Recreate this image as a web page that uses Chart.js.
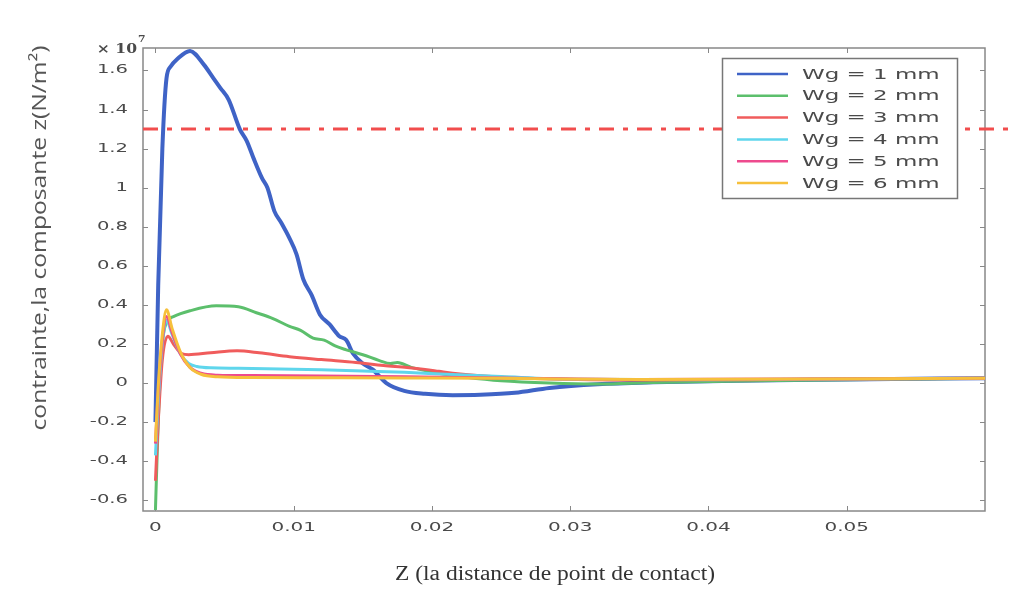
<!DOCTYPE html>
<html lang="fr">
<head>
  <meta charset="UTF-8">
  <title>Contrainte z</title>
  <script src="https://cdn.jsdelivr.net/npm/chart.js"></script>
  <style>
    body { margin: 0; background: #fff; }
    canvas { display: block; }
  </style>
</head>
<body>

<canvas id="stressChart" width="1010" height="592"></canvas>

<script>
// values are in units of 1e7 N/m^2
const seriesNames = ['Wg = 1 mm', 'Wg = 2 mm', 'Wg = 3 mm', 'Wg = 4 mm', 'Wg = 5 mm', 'Wg = 6 mm'];
const seriesColors = ['#3f63c6', '#5cbf6c', '#f05c5c', '#5fd6ec', '#ee4a8e', '#f6c03c'];

const zWg1 = [0, 0.0002, 0.0005, 0.0008, 0.0011, 0.0016, 0.0025, 0.0035, 0.0042, 0.0047, 0.0053, 0.0061, 0.0066, 0.0071, 0.0077, 0.0081, 0.0086, 0.0091, 0.0097, 0.0102, 0.0107, 0.0113, 0.0119, 0.0126, 0.0133, 0.0138, 0.0143, 0.015, 0.0157, 0.0167, 0.018, 0.0195, 0.0215, 0.0235, 0.026, 0.0285, 0.032, 0.036, 0.042, 0.05, 0.06];
const wg1 = [-0.2, 0.5, 1.2, 1.56, 1.62, 1.66, 1.70, 1.63, 1.56, 1.51, 1.45, 1.30, 1.24, 1.15, 1.05, 1.0, 0.88, 0.82, 0.74, 0.66, 0.53, 0.45, 0.35, 0.30, 0.24, 0.22, 0.15, 0.1, 0.07, 0.0, -0.04, -0.055, -0.062, -0.06, -0.05, -0.025, -0.006, 0.004, 0.012, 0.018, 0.025];

const zWg2 = [0, 0.0002, 0.0005, 0.0008, 0.0013, 0.0025, 0.0044, 0.006, 0.0073, 0.0085, 0.0097, 0.0105, 0.0114, 0.0122, 0.013, 0.0138, 0.015, 0.0162, 0.017, 0.0175, 0.0185, 0.0205, 0.0225, 0.025, 0.0285, 0.032, 0.036, 0.045, 0.06];
const wg2 = [-0.65, -0.2, 0.2, 0.31, 0.34, 0.37, 0.395, 0.39, 0.36, 0.33, 0.29, 0.27, 0.23, 0.22, 0.19, 0.17, 0.145, 0.115, 0.1, 0.105, 0.08, 0.05, 0.03, 0.012, 0.0, -0.005, 0.003, 0.013, 0.025];

const zWg3 = [0, 0.0002, 0.0005, 0.0009, 0.0013, 0.0019, 0.0024, 0.004, 0.0059, 0.0075, 0.0097, 0.012, 0.0145, 0.0165, 0.0182, 0.0195, 0.0205, 0.0215, 0.024, 0.028, 0.035, 0.045, 0.06];
const wg3 = [-0.5, -0.2, 0.12, 0.24, 0.2, 0.15, 0.145, 0.155, 0.165, 0.155, 0.135, 0.12, 0.105, 0.09, 0.08, 0.07, 0.06, 0.05, 0.035, 0.022, 0.015, 0.018, 0.025];

const zWg4 = [0, 0.0002, 0.0005, 0.0008, 0.0012, 0.0018, 0.0024, 0.003, 0.004, 0.006, 0.009, 0.012, 0.015, 0.018, 0.021, 0.025, 0.03, 0.04, 0.06];
const wg4 = [-0.37, -0.1, 0.2, 0.32, 0.25, 0.15, 0.1, 0.085, 0.078, 0.076, 0.072, 0.068, 0.062, 0.055, 0.045, 0.033, 0.02, 0.017, 0.025];

const zWg5 = [0, 0.0002, 0.0005, 0.0008, 0.0012, 0.0018, 0.0025, 0.0033, 0.0045, 0.007, 0.012, 0.018, 0.025, 0.035, 0.06];
const wg5 = [-0.31, -0.05, 0.22, 0.34, 0.26, 0.15, 0.08, 0.05, 0.04, 0.038, 0.036, 0.032, 0.026, 0.018, 0.025];

const zWg6 = [0, 0.0002, 0.0005, 0.0008, 0.0012, 0.0018, 0.0025, 0.0033, 0.0045, 0.007, 0.012, 0.018, 0.025, 0.035, 0.06];
const wg6 = [-0.3, -0.02, 0.25, 0.375, 0.28, 0.16, 0.08, 0.045, 0.032, 0.028, 0.027, 0.026, 0.024, 0.018, 0.025];

// limit stress (dash-dot line)
const limitZ = [-0.0009, 0.0618];
const limitValue = 1.3;

const xTicks = [0, 0.01, 0.02, 0.03, 0.04, 0.05];
const yTicks = [-0.6, -0.4, -0.2, 0, 0.2, 0.4, 0.6, 0.8, 1, 1.2, 1.4, 1.6];

const zSeries = [zWg1, zWg2, zWg3, zWg4, zWg5, zWg6];
const valSeries = [wg1, wg2, wg3, wg4, wg5, wg6];

// stretched text, like the original figure
function wideText(ctx, text, x, y, align, sx) {
  ctx.save();
  ctx.translate(x, y);
  ctx.scale(sx, 1);
  ctx.textAlign = align;
  ctx.fillText(text, 0, 0);
  ctx.restore();
}

const datasets = zSeries.map((zs, i) => ({
  label: seriesNames[i],
  data: zs.map((z, k) => ({ x: z, y: valSeries[i][k] })),
  borderColor: seriesColors[i],
  borderWidth: i === 0 ? 4 : 3,
  pointRadius: 0,
  cubicInterpolationMode: 'monotone',
  fill: false,
  order: 6 - i
}));

datasets.push({
  label: 'limite',
  data: limitZ.map(z => ({ x: z, y: limitValue })),
  borderColor: '#f14d4d',
  borderWidth: 3,
  borderDash: [15, 9, 5, 9],
  pointRadius: 0,
  fill: false,
  order: 0,
  clip: { left: 0, top: 0, right: 30, bottom: 0 }
});

const framePlugin = {
  id: 'frame',
  beforeDatasetsDraw(chart) {
    const ctx = chart.ctx;
    const a = chart.chartArea;
    const xs = chart.scales.x, ys = chart.scales.y;
    ctx.save();
    ctx.strokeStyle = '#888';
    ctx.lineWidth = 1.5;
    ctx.strokeRect(a.left, a.top, a.right - a.left, a.bottom - a.top);
    ctx.lineWidth = 1;
    ctx.beginPath();
    yTicks.forEach(v => {
      const py = Math.round(ys.getPixelForValue(v)) + 0.5;
      ctx.moveTo(a.left, py); ctx.lineTo(a.left + 5, py);
      ctx.moveTo(a.right, py); ctx.lineTo(a.right - 5, py);
    });
    xTicks.forEach(v => {
      const px = Math.round(xs.getPixelForValue(v)) + 0.5;
      ctx.moveTo(px, a.bottom); ctx.lineTo(px, a.bottom - 5);
      ctx.moveTo(px, a.top); ctx.lineTo(px, a.top + 5);
    });
    ctx.stroke();
    ctx.restore();
  },
  afterDraw(chart) {
    const ctx = chart.ctx;
    const a = chart.chartArea;
    const xs = chart.scales.x, ys = chart.scales.y;
    ctx.save();
    ctx.fillStyle = '#4a4a4a';
    ctx.textBaseline = 'middle';

    // tick labels
    ctx.font = '11.5px "DejaVu Sans"';
    yTicks.forEach(v => {
      wideText(ctx, String(v), a.left - 15, ys.getPixelForValue(v), 'right', 1.7);
    });
    ctx.font = '12.5px "DejaVu Sans"';
    xTicks.forEach(v => {
      wideText(ctx, String(v), xs.getPixelForValue(v), 528, 'center', 1.6);
    });

    // x 10^7
    ctx.textBaseline = 'alphabetic';
    ctx.font = 'bold 12px "DejaVu Serif"';
    wideText(ctx, '\u00d7 10', 137, 53, 'right', 1.3);
    ctx.font = 'bold 9px "DejaVu Serif"';
    wideText(ctx, '7', 138, 42, 'left', 1.2);

    // legend
    ctx.fillStyle = '#fff';
    ctx.fillRect(722, 58, 235, 140);
    ctx.strokeStyle = '#777';
    ctx.lineWidth = 1.5;
    ctx.strokeRect(722.5, 58.5, 235, 140);
    ctx.textBaseline = 'middle';
    ctx.font = '13.5px "DejaVu Sans"';
    seriesNames.forEach((name, i) => {
      const ly = 74 + i * 21.8;
      ctx.strokeStyle = seriesColors[i];
      ctx.lineWidth = 2.5;
      ctx.beginPath();
      ctx.moveTo(737, ly); ctx.lineTo(788, ly);
      ctx.stroke();
      ctx.fillStyle = '#4a4a4a';
      wideText(ctx, name, 802, ly + 1, 'left', 1.7);
    });

    // axis titles
    ctx.fillStyle = '#333';
    ctx.font = '20px "Liberation Serif"';
    const xt = 'Z (la distance de point de contact)';
    const xw = ctx.measureText(xt).width;
    wideText(ctx, xt, 555, 575, 'center', 320 / xw);

    ctx.fillStyle = '#555';
    ctx.font = '20px "Open Sans"';
    const yt = 'contrainte,la composante z(N/m\u00b2)';
    const yw = ctx.measureText(yt).width;
    ctx.translate(40, 238);
    ctx.rotate(-Math.PI / 2);
    wideText(ctx, yt, 0, 0, 'center', 385 / yw);
    ctx.restore();
  }
};

new Chart(document.getElementById('stressChart'), {
  type: 'line',
  data: { datasets: datasets },
  options: {
    responsive: false,
    animation: false,
    layout: { padding: { top: 48, right: 25, left: 0, bottom: 0 } },
    plugins: {
      legend: { display: false },
      tooltip: { enabled: false }
    },
    scales: {
      x: {
        type: 'linear',
        min: -0.0009,
        max: 0.06,
        grid: { display: false },
        border: { display: false },
        ticks: { display: false },
        afterFit(scale) { scale.height = 81; }
      },
      y: {
        type: 'linear',
        min: -0.655,
        max: 1.715,
        grid: { display: false },
        border: { display: false },
        ticks: { display: false },
        afterFit(scale) { scale.width = 143; }
      }
    }
  },
  plugins: [framePlugin]
});
</script>

</body>
</html>
